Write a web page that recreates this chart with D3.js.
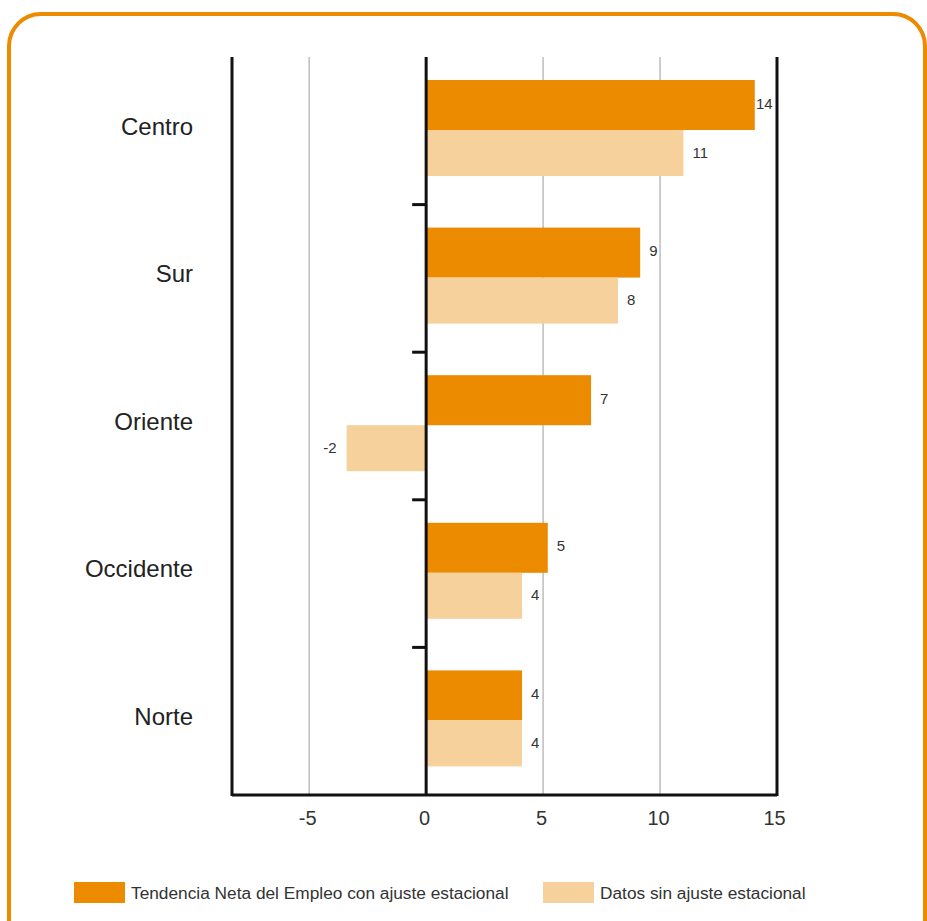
<!DOCTYPE html>
<html>
<head>
<meta charset="utf-8">
<script src="https://cdn.jsdelivr.net/npm/d3@7"></script>
<style>
  body { margin: 0; background: #fff; }
  svg { display: block; }
</style>
</head>
<body>
<div id="wrapper"></div>
<script>
// Data
const regions = ["Centro", "Sur", "Oriente", "Occidente", "Norte"]
const ajustado = [14.05, 9.15, 7.05, 5.2, 4.1]
const sinAjuste = [11, 8.2, -3.4, 4.1, 4.1]
const ajustadoLabels = ["14", "9", "7", "5", "4"]
const sinAjusteLabels = ["11", "8", "-2", "4", "4"]
const xTicks = [-5, 0, 5, 10, 15]
const seriesNames = ["Tendencia Neta del Empleo con ajuste estacional", "Datos sin ajuste estacional"]

const colors = ["#ec8a00", "#f6d19b"]
const font = "'Liberation Sans', Arial, sans-serif"

const dms = { width: 927, height: 921 }

const wrapper = d3.select("#wrapper")
  .append("svg")
  .attr("width", dms.width)
  .attr("height", dms.height)

// rounded orange frame
wrapper.append("rect")
  .attr("x", 9)
  .attr("y", 14)
  .attr("width", 916)
  .attr("height", 960)
  .attr("rx", 32)
  .attr("fill", "none")
  .attr("stroke", colors[0])
  .attr("stroke-width", 4)

// Scales
const xScale = d3.scaleLinear()
  .domain([-8.3, 15])
  .range([232, 777])

const yScale = d3.scaleBand()
  .domain(regions)
  .range([57, 795])

const barTop = 23
const h1 = 50
const h2 = 46

// gridlines
wrapper.append("g")
  .selectAll("line")
  .data(xTicks.filter(d => d != 0 && d != 15))
  .join("line")
  .attr("x1", d => xScale(d))
  .attr("x2", d => xScale(d))
  .attr("y1", 57)
  .attr("y2", 795)
  .attr("stroke", "#bdbdbd")
  .attr("stroke-width", 1.5)

// bars
const rows = regions.map((r, i) => ({
  region: r,
  a: ajustado[i], b: sinAjuste[i],
  la: ajustadoLabels[i], lb: sinAjusteLabels[i],
}))

const groups = wrapper.append("g")
  .selectAll("g")
  .data(rows)
  .join("g")

groups.append("rect")
  .attr("x", d => xScale(Math.min(0, d.a)))
  .attr("y", d => yScale(d.region) + barTop)
  .attr("width", d => Math.abs(xScale(d.a) - xScale(0)))
  .attr("height", h1)
  .attr("fill", colors[0])

groups.append("rect")
  .attr("x", d => xScale(Math.min(0, d.b)))
  .attr("y", d => yScale(d.region) + barTop + h1)
  .attr("width", d => Math.abs(xScale(d.b) - xScale(0)))
  .attr("height", h2)
  .attr("fill", colors[1])

const labelStyle = sel => sel
  .attr("font-family", font)
  .attr("font-size", "15px")
  .attr("fill", "#333")
  .attr("dominant-baseline", "central")

// keep the value label inside the right frame line
const xMax = xScale.range()[1]
const labelX = v => v >= 0
  ? Math.min(xScale(v) + 9, xMax - 21)
  : xScale(v) - 10

groups.append("text")
  .text(d => d.la)
  .attr("x", d => labelX(d.a))
  .attr("text-anchor", d => d.a >= 0 ? "start" : "end")
  .attr("y", d => yScale(d.region) + barTop + h1 / 2 - 2)
  .call(labelStyle)

groups.append("text")
  .text(d => d.lb)
  .attr("x", d => labelX(d.b))
  .attr("text-anchor", d => d.b >= 0 ? "start" : "end")
  .attr("y", d => yScale(d.region) + barTop + h1 + h2 / 2 - 1)
  .call(labelStyle)

// category labels
groups.append("text")
  .text(d => d.region)
  .attr("x", 193)
  .attr("y", d => yScale(d.region) + barTop + (h1 + h2) / 2 - 2)
  .attr("text-anchor", "end")
  .attr("dominant-baseline", "central")
  .attr("font-family", font)
  .attr("font-size", "24px")
  .attr("fill", "#222")

// frame lines: left, zero, right, bottom
const frame = wrapper.append("g")
  .attr("stroke", "#111")
  .attr("stroke-width", 3)

;[xScale.domain()[0], 0, xScale.domain()[1]].forEach(v => {
  frame.append("line")
    .attr("x1", xScale(v)).attr("x2", xScale(v))
    .attr("y1", 57).attr("y2", 796)
})

frame.append("line")
  .attr("x1", xScale.range()[0]).attr("x2", xScale.range()[1])
  .attr("y1", 795).attr("y2", 795)

// small ticks between categories on the zero line
frame.selectAll(".cat-tick")
  .data(regions.slice(1))
  .join("line")
  .attr("class", "cat-tick")
  .attr("x1", xScale(0) - 14)
  .attr("x2", xScale(0))
  .attr("y1", d => yScale(d))
  .attr("y2", d => yScale(d))

// x axis labels
const xAxisGenerator = d3.axisBottom(xScale)
  .tickValues(xTicks)
  .tickFormat(d => String(d))
  .tickSize(0)
  .tickPadding(14)

const xAxis = wrapper.append("g")
  .attr("transform", "translate(0, 797)")
  .call(xAxisGenerator)

xAxis.select(".domain").remove()
xAxis.selectAll("text")
  .attr("font-family", font)
  .attr("font-size", "20px")
  .attr("fill", "#333")
  .attr("dx", d => d == 15 ? -3 : -2)

// legend
const legend = wrapper.append("g")
  .selectAll("g")
  .data(seriesNames)
  .join("g")
  .attr("transform", (d, i) => `translate(${[74, 543][i]}, 882)`)

legend.append("rect")
  .attr("width", 51)
  .attr("height", 21)
  .attr("fill", (d, i) => colors[i])

legend.append("text")
  .text(d => d)
  .attr("x", 57)
  .attr("y", 11)
  .attr("dominant-baseline", "central")
  .attr("font-family", font)
  .attr("font-size", "17.3px")
  .attr("fill", "#333")
</script>
</body>
</html>
